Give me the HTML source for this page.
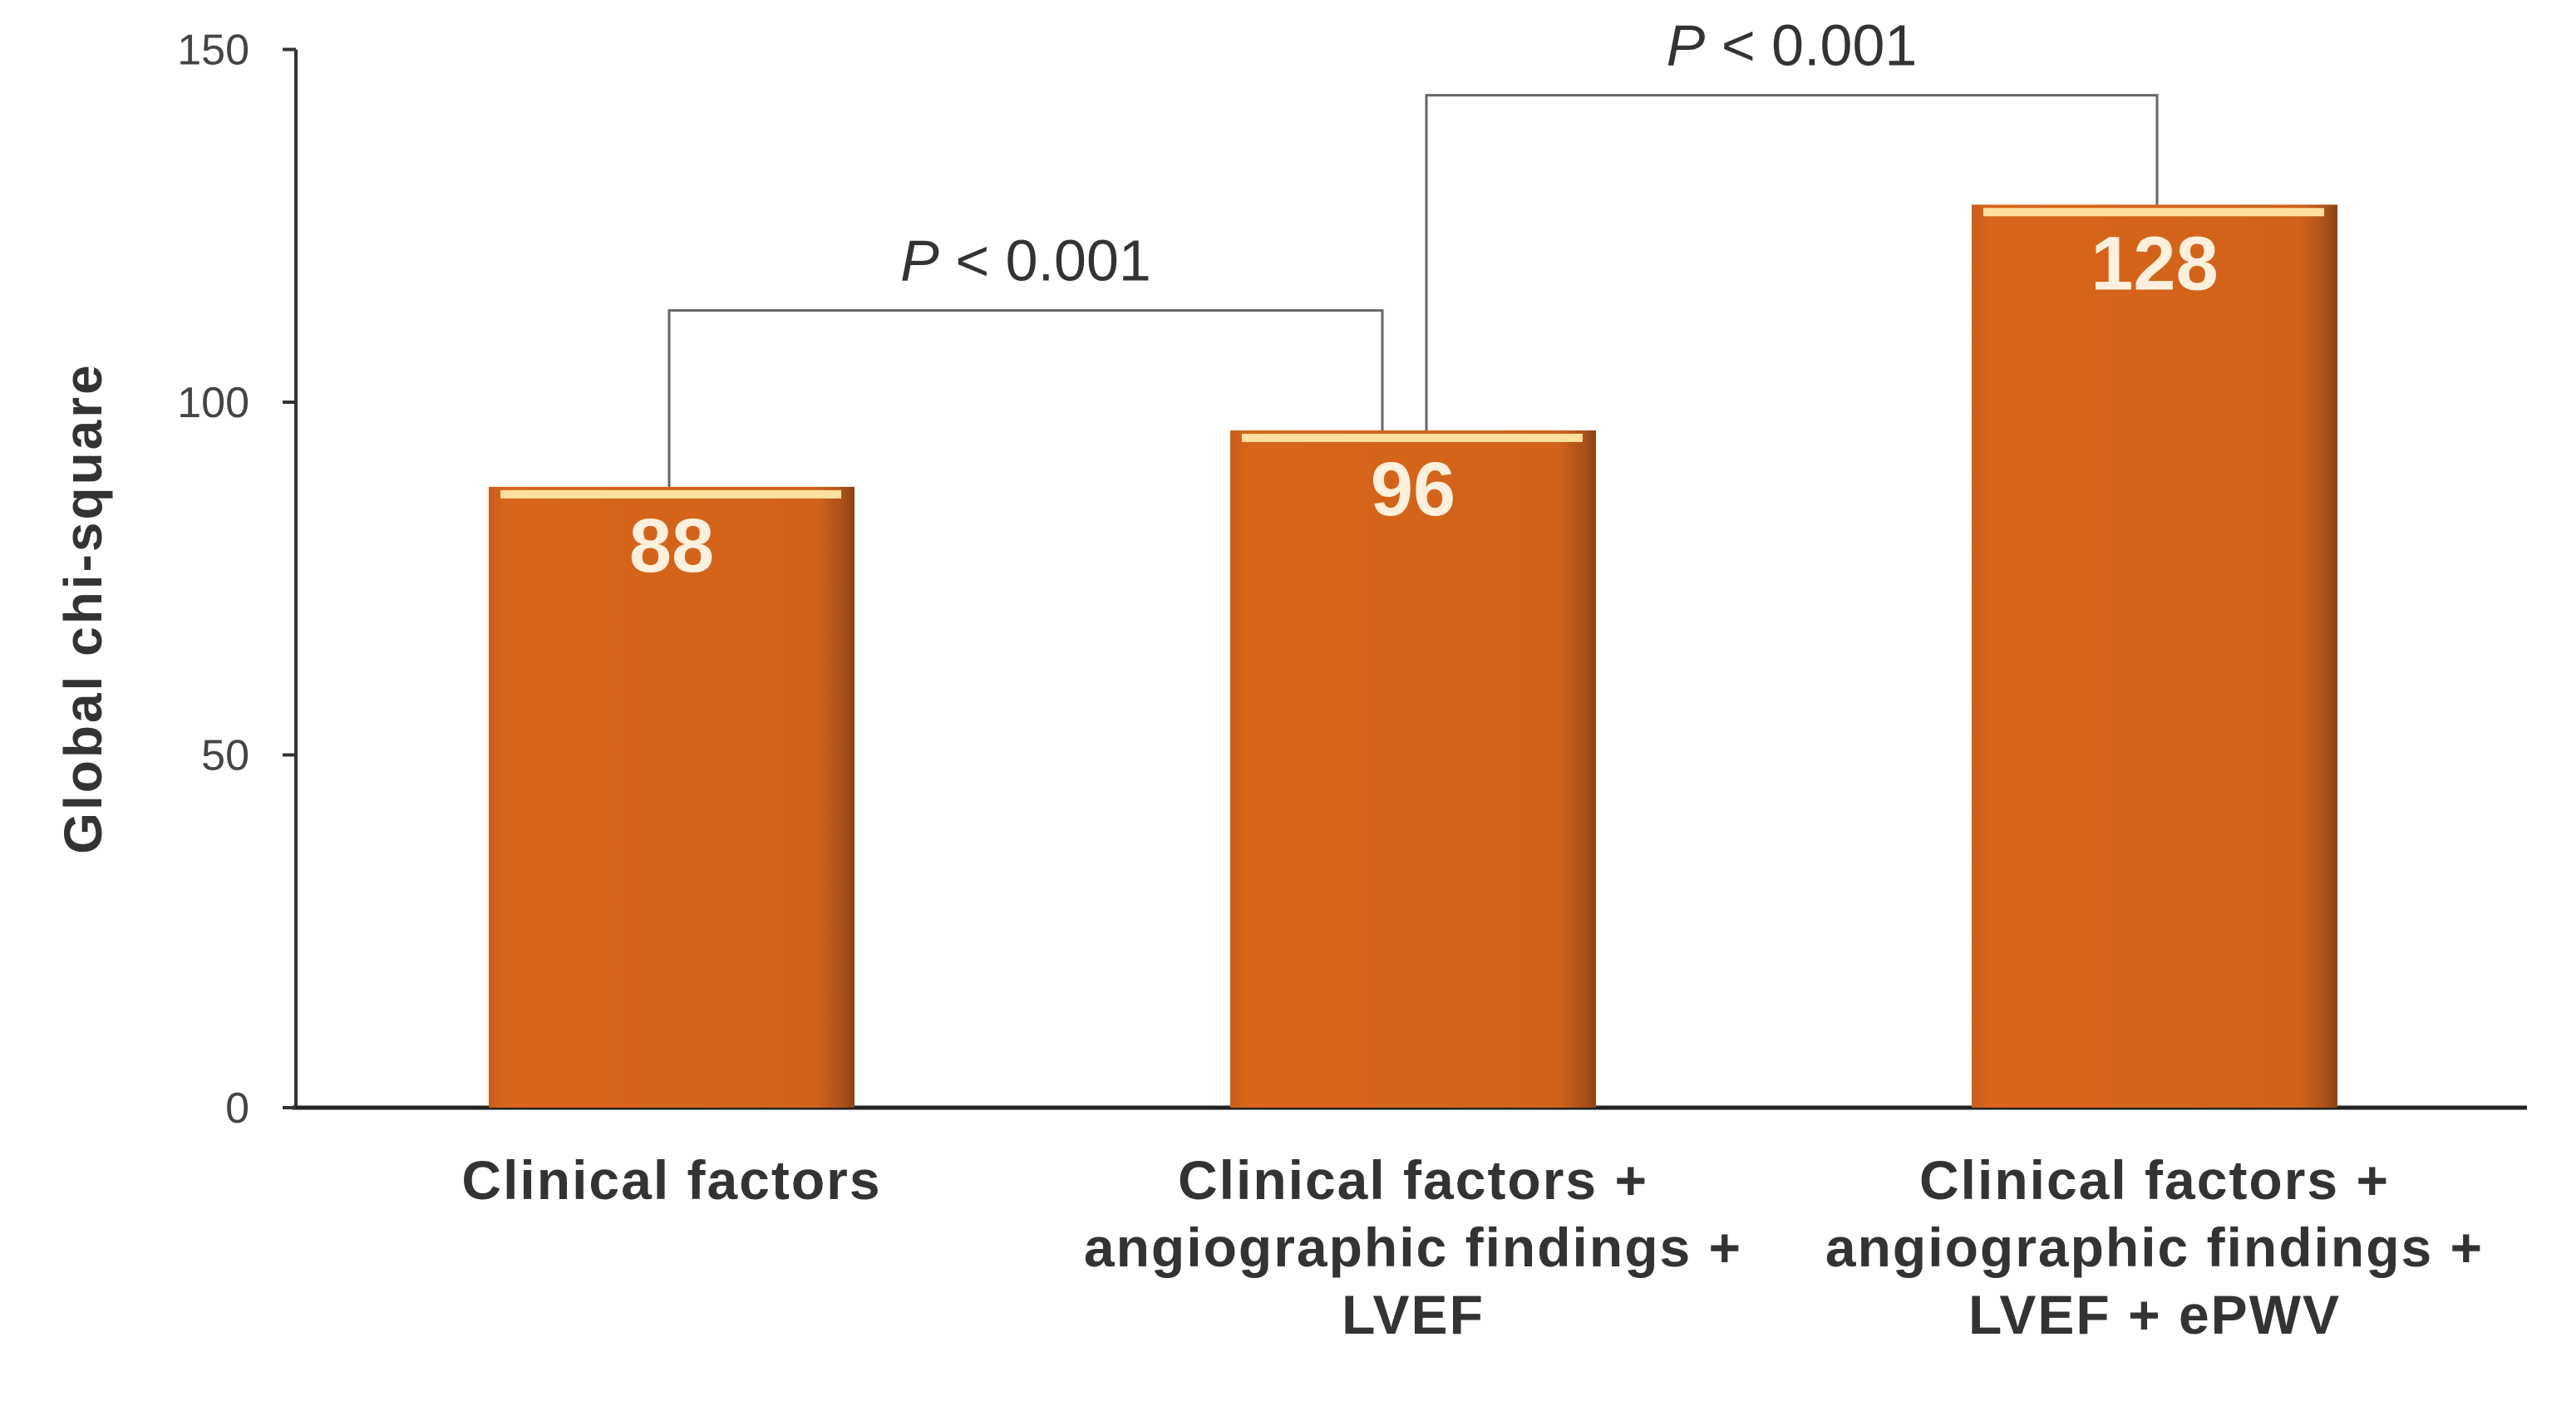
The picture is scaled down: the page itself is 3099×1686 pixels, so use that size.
<!DOCTYPE html>
<html><head><meta charset="utf-8"><style>
html,body{margin:0;padding:0;background:#fff;}
svg{display:block;font-family:"Liberation Sans",Arial,sans-serif;}
</style></head><body>
<svg id="chart" width="3099" height="1686" viewBox="0 0 3099 1686" xmlns="http://www.w3.org/2000/svg">
<defs>
<linearGradient id="barGrad" x1="0" y1="0" x2="1" y2="0">
<stop offset="0" stop-color="#c85e1a"/><stop offset="0.05" stop-color="#d8661a"/>
<stop offset="0.9" stop-color="#d0621a"/><stop offset="0.97" stop-color="#a8501a"/><stop offset="1" stop-color="#8a4214"/>
</linearGradient>
</defs>
<g id="plot"></g>
</svg>
<script>
const categories=[["Clinical factors"],["Clinical factors +","angiographic findings +","LVEF"],["Clinical factors +","angiographic findings +","LVEF + ePWV"]];
const values=[88,96,128];
const yTicks=[0,50,100,150];
const pLabels=["P","P"];
const brackets=[[0,1,113],[1,2,143.5]];
const NS="http://www.w3.org/2000/svg";
const g=document.getElementById('plot');
const y0=1333,unit=8.49,x0=356,xEnd=3040;
const centers0=808,step=892,bw=440;
function y(v){return y0-v*unit;}
function xc(i){return centers0+i*step;}
function mk(t,a,p){const e=document.createElementNS(NS,t);for(const k in a)e.setAttribute(k,a[k]);(p||g).appendChild(e);return e;}
let e=mk('line',{x1:x0,y1:y(150),x2:x0,y2:y0,stroke:'#333','stroke-width':4});


e=mk('line',{x1:x0-4,y1:y0,x2:xEnd,y2:y0,stroke:'#222','stroke-width':5});


yTicks.forEach(t=>{
 let tk=mk('line',{x1:x0-16,y1:y(t),x2:x0,y2:y(t),stroke:'#333','stroke-width':4});
 
 
 let tl=mk('text',{x:x0-56,y:y(t)+18,'text-anchor':'end','font-size':52,fill:'#444'});
 tl.textContent=t;
 
 
});
e=mk('text',{x:0,y:0,transform:'translate(122,732) rotate(-90)','text-anchor':'middle','font-size':64,'font-weight':'bold','letter-spacing':3,fill:'#333'});
e.textContent='Global chi-square';


values.forEach((v,i)=>{
 const l=xc(i)-bw/2,top=y(v);
 let r=mk('rect',{x:l,y:top,width:bw,height:y0-top,fill:'url(#barGrad)'});
 
 
 let h=mk('rect',{x:l+14,y:top+4,width:bw-30,height:10,fill:'#ffe0a0'});
 
 
 let t=mk('text',{x:xc(i),y:top+102,'text-anchor':'middle','font-size':92,'font-weight':'bold',fill:'#fdf0dc'});
 t.textContent=v;
 
 
 categories[i].forEach((ln,j)=>{
  let c=mk('text',{x:xc(i),y:1443+j*81,'text-anchor':'middle','font-size':66,'font-weight':'bold','letter-spacing':2,fill:'#333'});
  c.textContent=ln;
  
  
 });
});
brackets.forEach((b,k)=>{
 const a=xc(b[0])+(k===0?-3:16),c=xc(b[1])+(k===0?-37:3),yy=y(b[2]);
 let p=mk('polyline',{points:`${a},${y(values[b[0]])} ${a},${yy} ${c},${yy} ${c},${y(values[b[1]])}`,fill:'none',stroke:'#666','stroke-width':3});
 
 
 let t=mk('text',{x:(a+c)/2,y:yy-36,'text-anchor':'middle','font-size':70,fill:'#333'});
 t.innerHTML='<tspan font-style="italic">'+pLabels[k]+'</tspan> &lt; 0.001';
 
 
});
</script>
</body></html>
